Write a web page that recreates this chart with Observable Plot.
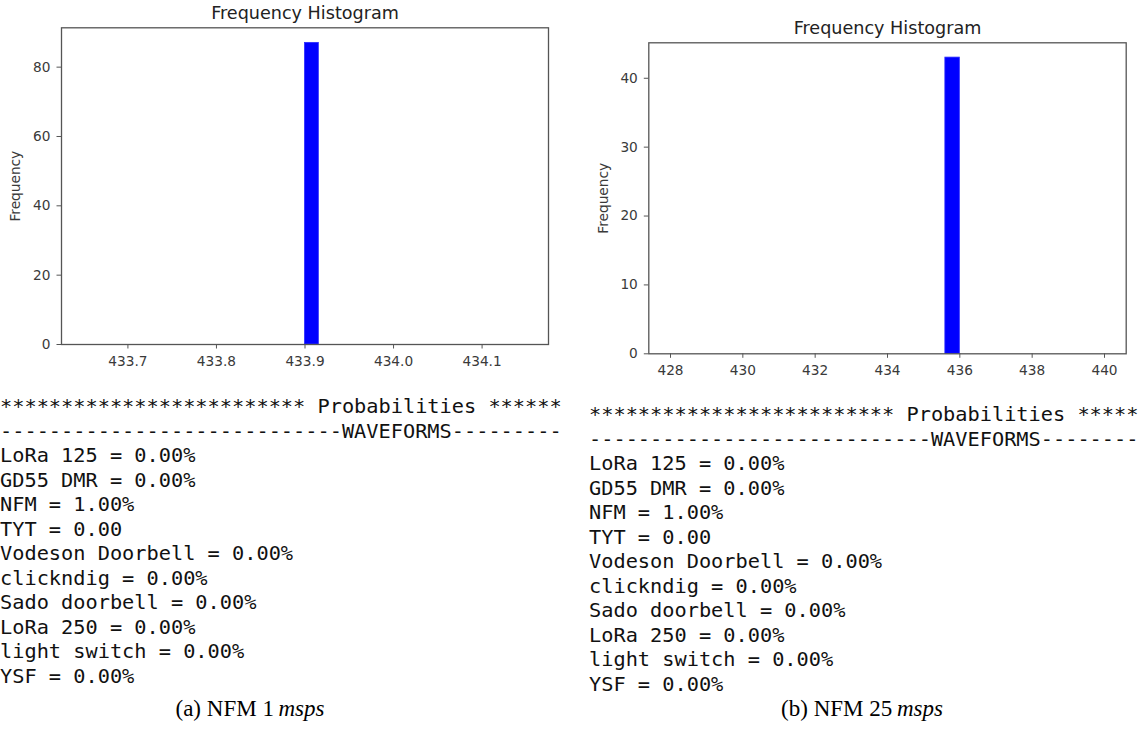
<!DOCTYPE html>
<html>
<head>
<meta charset="utf-8">
<script src="https://cdn.jsdelivr.net/npm/d3@7"></script>
<script src="https://cdn.jsdelivr.net/npm/@observablehq/plot@0.6"></script>
<style>
  html, body { margin: 0; padding: 0; background: #fff; }
  body { width: 1145px; height: 742px; position: relative; overflow: hidden; }
  .chart { position: absolute; top: 0; }
  .out {
    position: absolute; margin: 0; white-space: pre;
    font-family: "DejaVu Sans Mono", monospace; font-size: 20.3px; line-height: 24.55px;
    color: #111;
  }
  .cap {
    position: absolute; font-family: "Liberation Serif", "DejaVu Serif", serif;
    font-size: 23px; color: #000; text-align: center; white-space: nowrap;
  }
</style>
</head>
<body>
<div id="chartA" class="chart" style="left:0px"></div>
<div id="chartB" class="chart" style="left:588px"></div>
<pre id="outA" class="out" style="left:0px; top:394px"></pre>
<pre id="outB" class="out" style="left:589px; top:402px"></pre>
<div class="cap" style="left:50px; width:400px; top:696px">(a) NFM 1&#8201;<i>msps</i></div>
<div class="cap" style="left:662px; width:400px; top:696px">(b) NFM 25&#8201;<i>msps</i></div>
<script>
// ---- Histogram (a): NFM 1 msps ----
const binA_x1 = [433.9];
const binA_x2 = [433.915625];
const binA_count = [87];
const xTicksA = [433.7, 433.8, 433.9, 434.0, 434.1];
const yTicksA = [0, 20, 40, 60, 80];
const xDomainA = [433.625, 434.175];
const yDomainA = [0, 91.35];

// ---- Histogram (b): NFM 25 msps ----
const binB_x1 = [435.6];
const binB_x2 = [436.0];
const binB_count = [43];
const xTicksB = [428, 430, 432, 434, 436, 438, 440];
const yTicksB = [0, 10, 20, 30, 40];
const xDomainB = [427.4, 440.6];
const yDomainB = [0, 45.15];

const chartTitle = "Frequency Histogram";
const yLabel = "Frequency";

// ---- Printed probabilities (visible part of each console line) ----
const headerLineA = "************************* Probabilities ******";
const sepLineA = "----------------------------WAVEFORMS---------";
const headerLineB = "************************* Probabilities *****";
const sepLineB = "----------------------------WAVEFORMS--------";
const waveforms = ["LoRa 125", "GD55 DMR", "NFM", "TYT", "Vodeson Doorbell",
  "clickndig", "Sado doorbell", "LoRa 250", "light switch", "YSF"];
const probsA = ["0.00%", "0.00%", "1.00%", "0.00", "0.00%", "0.00%", "0.00%", "0.00%", "0.00%", "0.00%"];
const probsB = ["0.00%", "0.00%", "1.00%", "0.00", "0.00%", "0.00%", "0.00%", "0.00%", "0.00%", "0.00%"];

function hist({x1, x2, count, xTicks, yTicks, xDomain, yDomain, fmt, width, height, margins}) {
  const data = x1.map((d, i) => ({x1: d, x2: x2[i], n: count[i]}));
  return Plot.plot({
    width, height,
    marginLeft: margins[0], marginRight: margins[1], marginTop: margins[2], marginBottom: margins[3],
    style: {fontFamily: "DejaVu Sans, sans-serif", fontSize: "13.7px", color: "#3a3a3a", background: "#fff"},
    x: {domain: xDomain},
    y: {domain: yDomain},
    marks: [
      Plot.rectY(data, {x1: "x1", x2: "x2", y: "n", fill: "#0000ff", stroke: "#2b2bff", strokeWidth: 0.8, inset: 0}),
      Plot.frame({stroke: "#555", strokeWidth: 1.3}),
      Plot.axisX({ticks: xTicks, tickFormat: fmt, tickSize: 4.5, tickPadding: 6.8, label: null, stroke: "#555"}),
      Plot.axisY({ticks: yTicks, tickFormat: "d", tickSize: 4.5, tickPadding: 6.5, label: yLabel,
        labelAnchor: "center", labelArrow: "none", labelOffset: 51, stroke: "#555"}),
      Plot.text([chartTitle], {frameAnchor: "top", dy: -14, text: d => d, fontSize: 17.6,
        fill: "#222", textAnchor: "middle", lineAnchor: "middle"})
    ]
  });
}

document.getElementById("chartA").append(hist({
  x1: binA_x1, x2: binA_x2, count: binA_count, xTicks: xTicksA, yTicks: yTicksA,
  xDomain: xDomainA, yDomain: yDomainA, fmt: d3.format(".1f"),
  width: 568, height: 375, margins: [61, 20, 27.3, 31]
}));
document.getElementById("chartB").append(hist({
  x1: binB_x1, x2: binB_x2, count: binB_count, xTicks: xTicksB, yTicks: yTicksB,
  xDomain: xDomainB, yDomain: yDomainB, fmt: d3.format("d"),
  width: 557, height: 390, margins: [60.3, 19.3, 42.3, 36.7]
}));

function lines(header, sep, probs) {
  return [header, sep, ...waveforms.map((w, i) => `${w} = ${probs[i]}`)].join("\n");
}
document.getElementById("outA").textContent = lines(headerLineA, sepLineA, probsA);
document.getElementById("outB").textContent = lines(headerLineB, sepLineB, probsB);
</script>
</body>
</html>
